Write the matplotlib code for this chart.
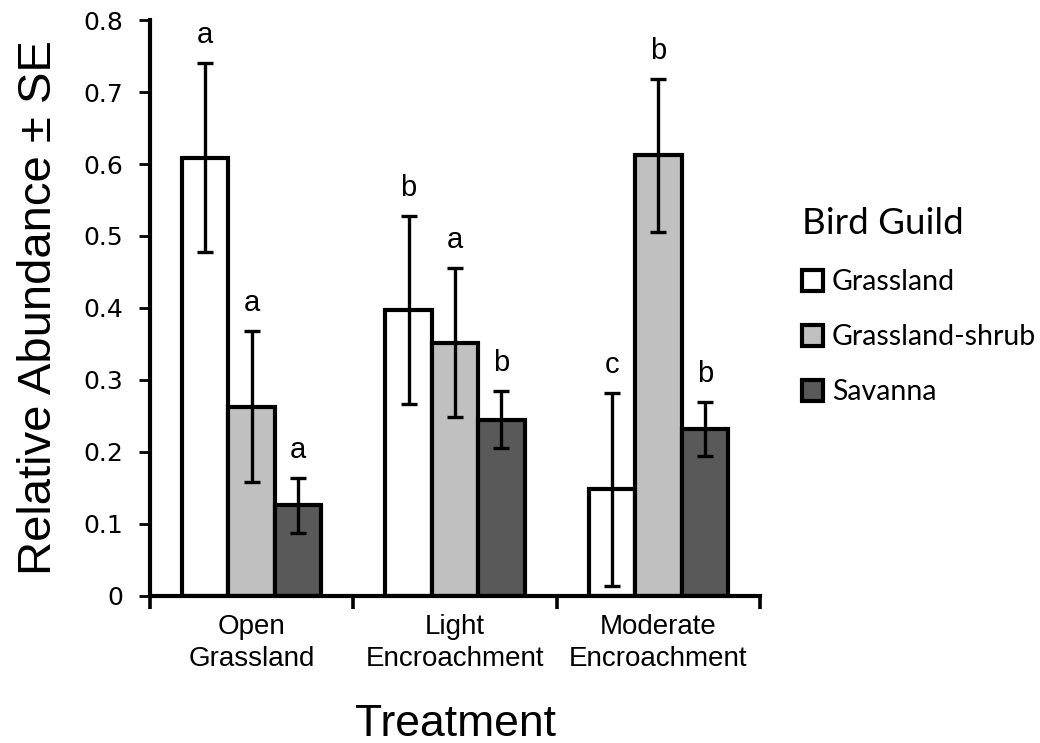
import numpy as np
import matplotlib
matplotlib.use("Agg")
import matplotlib.pyplot as plt
from matplotlib.patches import Patch

treatments = ["Open\nGrassland", "Light\nEncroachment", "Moderate\nEncroachment"]
guilds = ["Grassland", "Grassland-shrub", "Savanna"]
guild_colors = ["#ffffff", "#c0c0c0", "#595959"]

# mean relative abundance per guild, one value per treatment
grassland = [0.609, 0.397, 0.148]
grassland_shrub = [0.263, 0.352, 0.612]
savanna = [0.126, 0.245, 0.232]

# standard errors
grassland_se = [0.131, 0.131, 0.134]
grassland_shrub_se = [0.105, 0.104, 0.106]
savanna_se = [0.038, 0.040, 0.037]

# significance letters
grassland_sig = ["a", "b", "c"]
grassland_shrub_sig = ["a", "a", "b"]
savanna_sig = ["a", "b", "b"]

means = [grassland, grassland_shrub, savanna]
errs = [grassland_se, grassland_shrub_se, savanna_se]
sigs = [grassland_sig, grassland_shrub_sig, savanna_sig]

fig = plt.figure(figsize=(10.4, 7.43), dpi=100)
ax = fig.add_axes([0.144, 0.198, 0.587, 0.775])

x = np.arange(len(treatments))
width = 0.228
offsets = [-width, 0, width]

for i in range(3):
    xs = x + offsets[i]
    ax.bar(xs, means[i], width, color=guild_colors[i], edgecolor="black",
           linewidth=3.0, zorder=2)
    ax.errorbar(xs, means[i], yerr=errs[i], fmt="none", ecolor="black",
                elinewidth=2.4, capsize=6, capthick=2.4, zorder=3)
    for xi, m, e, s in zip(xs, means[i], errs[i], sigs[i]):
        ax.text(xi, m + e + 0.028, s, ha="center", va="baseline",
                fontsize=21, family="Liberation Sans")

ax.set_xlim(-0.5, 2.5)
ax.set_ylim(0, 0.8)
ax.set_yticks(np.arange(0, 0.81, 0.1))
ax.set_yticklabels(["0"] + [f"{v:.1f}" for v in np.arange(0.1, 0.81, 0.1)],
                   fontsize=18, family="DejaVu Sans")

# category boundaries carry the ticks, names sit between them
ax.set_xticks([-0.5, 0.5, 1.5, 2.5])
ax.set_xticklabels([])
ax.set_xticks(x, minor=True)
ax.set_xticklabels(treatments, minor=True, fontsize=20,
                   family="Liberation Sans", linespacing=1.3)
ax.tick_params(axis="x", which="minor", length=0, pad=13)
ax.tick_params(axis="x", which="major", length=9, width=2.6, direction="out")
ax.tick_params(axis="y", length=8, width=2.0, direction="out", pad=11)

for side in ["top", "right"]:
    ax.spines[side].set_visible(False)
for side in ["left", "bottom"]:
    ax.spines[side].set_linewidth(3.0)

ax.set_ylabel("Relative Abundance ± SE", fontsize=34, family="Liberation Sans",
              labelpad=16)
ax.set_xlabel("Treatment", fontsize=32, family="Liberation Sans", labelpad=23)

handles = [Patch(facecolor=c, edgecolor="black", linewidth=3.0) for c in guild_colors]
leg = fig.legend(handles, guilds, loc="upper left", bbox_to_anchor=(0.771, 0.721),
                 frameon=False, title="Bird Guild",
                 prop={"family": "Lato", "size": 20.5},
                 title_fontproperties={"family": "Lato", "size": 26.5},
                 handlelength=0.75, handleheight=0.75, handletextpad=0.3,
                 labelspacing=1.02, alignment="left", borderaxespad=0,
                 borderpad=0)

fig.savefig("out.png", dpi=100)
